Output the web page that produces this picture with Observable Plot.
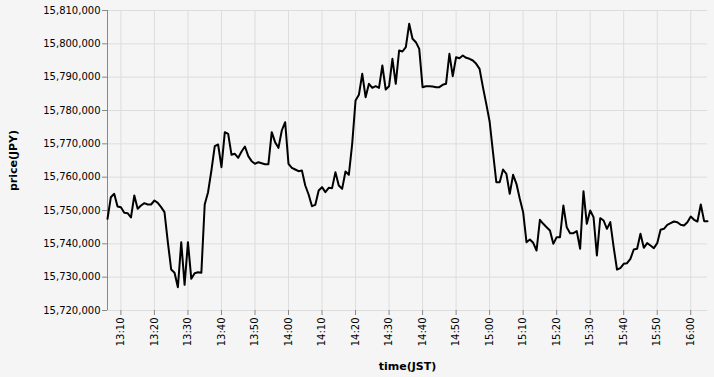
<!DOCTYPE html>
<html>
<head>
<meta charset="utf-8">
<script src="https://cdn.jsdelivr.net/npm/d3@7"></script>
<script src="https://cdn.jsdelivr.net/npm/@observablehq/plot@0.6"></script>
<style>
  html, body { margin: 0; padding: 0; background: #f5f5f5; }
  #chart svg { display: block; }
</style>
</head>
<body>
<div id="chart"></div>
<script>
// Minute-by-minute prices (JPY), JST, starting 13:06
const startTime = "13:06";
const stepMinutes = 1;
const prices = [
  15747500, 15754000, 15755000, 15751200, 15751000, 15749300, 15749200, 15747900, 15754500, 15750500,
  15751500, 15752200, 15751800, 15751800, 15753000, 15752300, 15751000, 15749500, 15740500, 15732300,
  15731300, 15727000, 15740500, 15727700, 15740500, 15729500, 15731200, 15731500, 15731300, 15751800,
  15755500, 15762000, 15769300, 15769800, 15763000, 15773500, 15773000, 15766700, 15767000, 15765800,
  15767700, 15769200, 15766300, 15764800, 15764000, 15764500, 15764200, 15763900, 15763900, 15773500,
  15770500, 15768800, 15774000, 15776500, 15764000, 15762800, 15762300, 15761800, 15762000, 15757500,
  15754800, 15751300, 15751700, 15756000, 15757000, 15755500, 15756800, 15756700, 15761500, 15757500,
  15756500, 15761700, 15760700, 15770000, 15783000, 15784700, 15791000, 15784000, 15788000, 15786800,
  15787300, 15786800, 15793500, 15786300, 15787300, 15795500, 15788000, 15798000, 15797700, 15799000,
  15806000, 15801500, 15800500, 15798500, 15787000, 15787300, 15787300, 15787200, 15787000, 15787000,
  15787700, 15788000, 15797000, 15790300, 15796000, 15795700, 15796500, 15795800, 15795500, 15795000,
  15794000, 15792500, 15787000, 15782000, 15776700, 15767500, 15758500, 15758500, 15762300, 15761000,
  15755000, 15760700, 15758000, 15753500, 15749500, 15740500, 15741300, 15740300, 15738000, 15747200,
  15746000, 15745000, 15744000, 15740000, 15742000, 15742000, 15751500, 15745000, 15743200, 15743200,
  15743800, 15738500, 15755800, 15746000, 15750000, 15748000, 15736500, 15747700, 15747000, 15744500,
  15746500, 15739000, 15732300, 15732700, 15734000, 15734200, 15735500, 15738300, 15738500, 15743000,
  15738800, 15740200, 15739500, 15738700, 15740200, 15744200, 15744500, 15745700, 15746200, 15746700,
  15746500, 15745700, 15745500, 15746500, 15748200, 15747200, 15746700, 15751800, 15746800, 15746800
];
const yTicks = [15720000, 15730000, 15740000, 15750000, 15760000, 15770000, 15780000, 15790000, 15800000, 15810000];

const [h0, m0] = startTime.split(":").map(Number);
const t0 = Date.UTC(2024, 0, 1, h0, m0);
const data = prices.map((p, i) => ({time: new Date(t0 + i * stepMinutes * 60000), price: p}));

const fmtTime = d3.utcFormat("%H:%M");
const fmtNum = d3.format(",");

const chart = Plot.plot({
  width: 714,
  height: 377,
  marginLeft: 107,
  marginRight: 7,
  marginTop: 10,
  marginBottom: 67,
  style: {background: "#f5f5f5", fontFamily: "DejaVu Sans, sans-serif", fontSize: "10px", color: "#000"},
  x: {type: "utc"},
  y: {domain: [yTicks[0], yTicks[yTicks.length - 1]]},
  marks: [
    Plot.gridX({ticks: d3.utcMinute.every(10), stroke: "#dddddd", strokeOpacity: 1}),
    Plot.gridY(yTicks, {stroke: "#dddddd", strokeOpacity: 1}),
    Plot.ruleX([data[0].time], {stroke: "#888888"}),
    Plot.axisY(yTicks, {tickFormat: fmtNum, tickSize: 5, tickPadding: 2, stroke: "#888888", label: "price(JPY)", labelArrow: "none", labelAnchor: "center", labelOffset: 98}),
    Plot.axisX({ticks: d3.utcMinute.every(10), tickFormat: fmtTime, tickRotate: -90, tickSize: 5, tickPadding: 2, stroke: "#888888", label: "time(JST)", labelArrow: "none", labelAnchor: "center", labelOffset: 59}),
    Plot.lineY(data, {x: "time", y: "price", stroke: "#000", strokeWidth: 2})
  ]
});
const svg = d3.select(chart);
svg.selectAll("[aria-label='y-axis label'], [aria-label='x-axis label']").attr("font-weight", "bold").attr("font-size", "11px");
svg.selectAll("[aria-label='y-axis label'] text, [aria-label='x-axis label'] text").each(function () {
  const t = d3.select(this);
  t.text(t.text().replace(/\s*[↑→←↓]\s*/g, ""));
});
document.getElementById("chart").appendChild(chart);
</script>
</body>
</html>
